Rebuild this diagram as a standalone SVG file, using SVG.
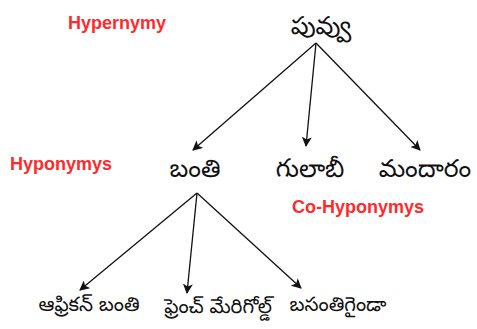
<svg xmlns="http://www.w3.org/2000/svg" width="477" height="329" viewBox="0 0 477 329">
<style>
.lbl{font-family:"Liberation Sans",Arial,sans-serif;font-weight:bold;font-size:18px;fill:#ff2a2a}
.te{font-family:"Noto Sans Telugu","Noto Sans",sans-serif;fill:#111}
.big{font-size:25px}
.sm{font-size:20px}
.c{stroke:#111;stroke-width:1.3;fill:none;marker-end:url(#ah)}
</style>
<defs>
<marker id="ah" markerWidth="10" markerHeight="10" refX="9" refY="5" orient="auto" markerUnits="userSpaceOnUse">
<path d="M0,0 L10,5 L0,10 L2.5,5 Z" fill="#111"/>
</marker>
</defs>
<rect width="477" height="329" fill="#fff"/>
<text class="lbl" x="68" y="29">Hypernymy</text>
<text class="lbl" x="10" y="170">Hyponymys</text>
<text class="lbl" x="292" y="213">Co-Hyponymys</text>
<g id="connectors">
<path class="c" d="M316,43 L193,150"/>
<path class="c" d="M316,43 L306,146"/>
<path class="c" d="M316,43 L420,150"/>
<path class="c" d="M197,193 L80,290"/>
<path class="c" d="M197,193 L187,293"/>
<path class="c" d="M197,193 L301,288"/>
</g>
<g id="n-puvvu"><text class="te big" x="321" y="34" text-anchor="middle">పువ్వు</text></g>
<g id="n-banti"><text class="te big" x="195" y="177" text-anchor="middle">బంతి</text></g>
<g id="n-gulabi"><text class="te big" x="310" y="177" text-anchor="middle">గులాబీ</text></g>
<g id="n-mandaram"><text class="te big" x="425" y="177" text-anchor="middle">మందారం</text></g>
<g id="n-african"><text class="te sm" x="89" y="311" text-anchor="middle">ఆఫ్రికన్ బంతి</text></g>
<g id="n-french"><text class="te sm" x="218" y="313" text-anchor="middle">ఫ్రెంచ్ మేరిగోల్డ్</text></g>
<g id="n-basanti"><text class="te sm" x="338" y="311" text-anchor="middle">బసంతిగైండా</text></g>
</svg>
